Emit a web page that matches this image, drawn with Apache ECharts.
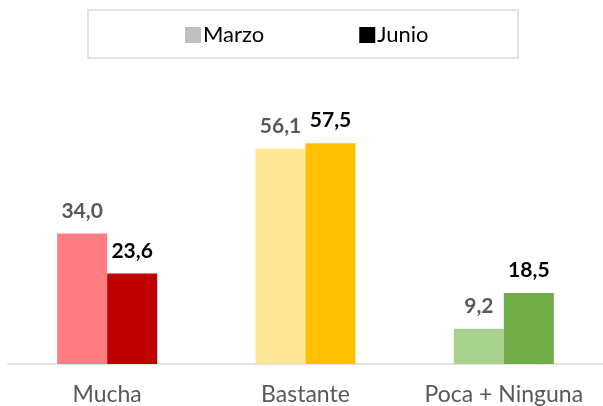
<!DOCTYPE html>
<html>
<head>
<meta charset="UTF-8">
<title>Marzo / Junio</title>
<script src="https://cdn.jsdelivr.net/npm/echarts@6/dist/echarts.min.js"></script>
<style>
  html, body { margin: 0; padding: 0; background: #fff; }
  #chart { width: 603px; height: 406px; }
</style>
</head>
<body>
<div id="chart"></div>
<script>
// datos
var categorias = ['Mucha', 'Bastante', 'Poca + Ninguna'];
var marzo = [34.0, 56.1, 9.2];
var junio = [23.6, 57.5, 18.5];

// colores por categoría
var coloresMarzo = ['#FF7C80', '#FFE699', '#A9D18E'];
var coloresJunio = ['#C00000', '#FFC000', '#70AD47'];

function coma(v) { return v.toFixed(1).replace('.', ','); }

function serie(nombre, valores, colores, colorLeyenda, colorTexto) {
  return {
    name: nombre,
    type: 'bar',
    barWidth: 50,
    barGap: '0%',
    itemStyle: { color: colorLeyenda },
    data: valores.map(function (v, i) {
      return { value: v, itemStyle: { color: colores[i] } };
    }),
    label: {
      show: true,
      position: 'top',
      distance: 12,
      fontFamily: 'Lato',
      fontWeight: 'bold',
      fontSize: 21,
      color: colorTexto,
      formatter: function (p) { return coma(p.value); }
    }
  };
}

var myChart = echarts.init(document.getElementById('chart'));
var option = {
  animation: false,
  graphic: [{
    type: 'rect',
    shape: { x: 88, y: 10, width: 430, height: 48 },
    style: { fill: 'none', stroke: '#d9d9d9', lineWidth: 1.5 }
  }],
  legend: {
    left: 180,
    top: 19,
    itemWidth: 16,
    itemHeight: 16,
    itemGap: 95,
    icon: 'rect',
    textStyle: { fontFamily: 'Lato', fontSize: 22, color: '#000', padding: [0, 0, 0, -3] },
    data: [
      { name: 'Marzo', itemStyle: { color: '#BFBFBF' } },
      { name: 'Junio', itemStyle: { color: '#000000' } }
    ]
  },
  grid: { left: 8, width: 600, top: 95.2, bottom: 42, containLabel: false },
  xAxis: {
    type: 'category',
    data: categorias,
    axisLine: { lineStyle: { color: '#d9d9d9', width: 1.5 } },
    axisTick: { show: false },
    axisLabel: { interval: 0, fontFamily: 'Lato', fontSize: 23, color: '#595959', margin: 19 }
  },
  yAxis: {
    type: 'value',
    min: 0,
    max: 70,
    show: false
  },
  series: [
    serie('Marzo', marzo, coloresMarzo, '#BFBFBF', '#595959'),
    serie('Junio', junio, coloresJunio, '#000000', '#000000')
  ]
};
myChart.setOption(option);
</script>
</body>
</html>
